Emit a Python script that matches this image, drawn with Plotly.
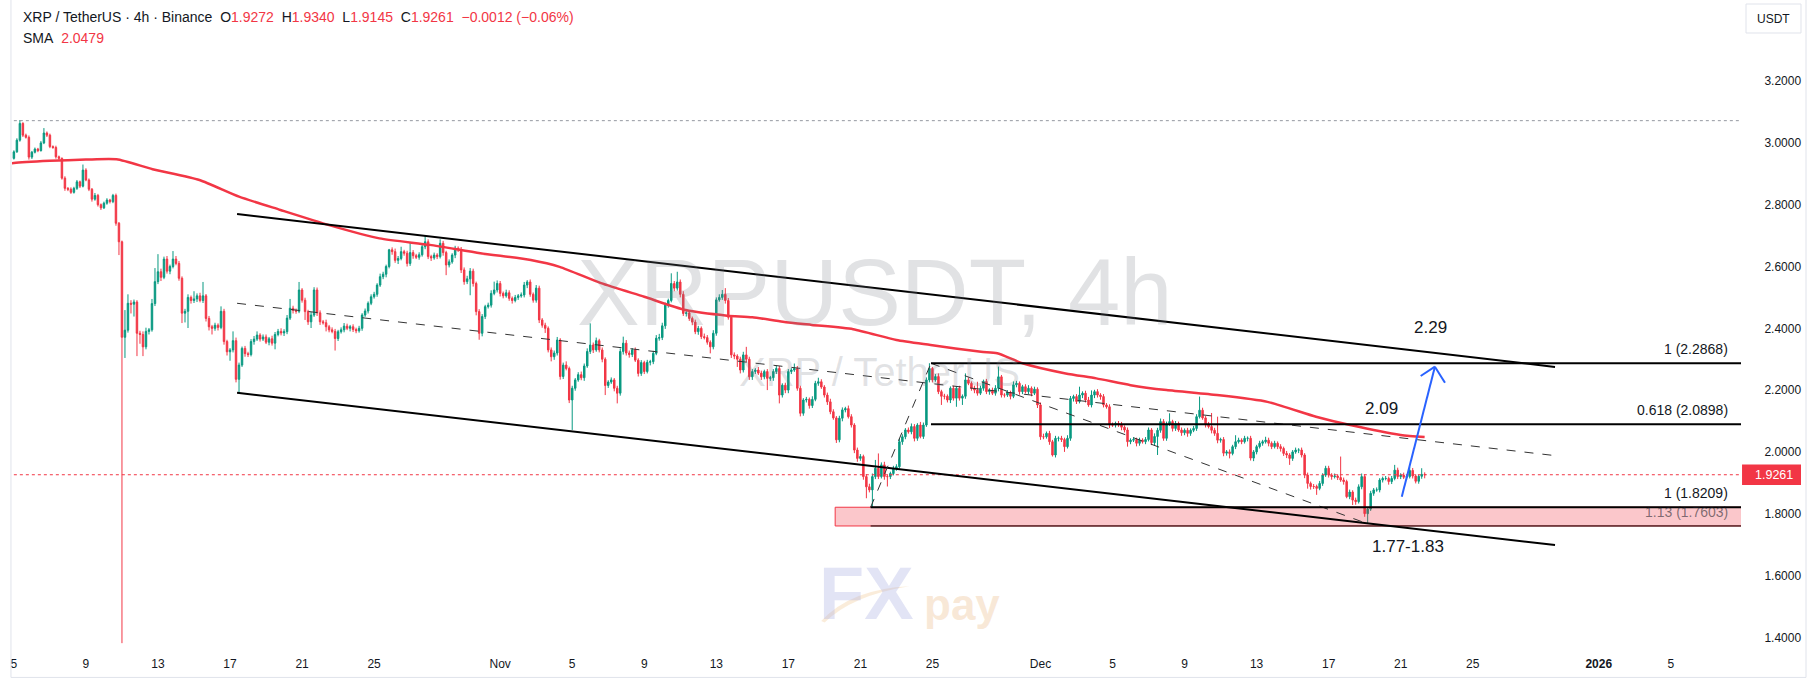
import pandas as pd
import plotly.graph_objects as go

# ---------------- data ----------------
START = pd.Timestamp("2025-10-05 00:00")   # first 4h candle
FIRST_OPEN = 2.950

# 4h closes, one row per day (6 candles)
CLOSE = [
 2.971,3.009,3.063,3.025,3.018,2.954,
 2.970,2.980,2.975,3.000,3.032,3.025,
 2.988,2.985,2.955,2.950,2.886,2.853,
 2.850,2.840,2.853,2.874,2.860,2.912,
 2.880,2.850,2.818,2.830,2.800,2.790,
 2.805,2.815,2.810,2.830,2.740,2.680,
 2.371,2.394,2.481,2.478,2.485,2.384,
 2.380,2.340,2.390,2.395,2.480,2.551,
 2.583,2.565,2.624,2.585,2.600,2.624,
 2.610,2.562,2.449,2.455,2.500,2.490,
 2.495,2.505,2.490,2.505,2.432,2.405,
 2.400,2.410,2.403,2.455,2.357,2.324,
 2.330,2.360,2.235,2.281,2.335,2.318,
 2.315,2.357,2.365,2.378,2.365,2.372,
 2.355,2.366,2.352,2.380,2.390,2.385,
 2.389,2.433,2.465,2.458,2.455,2.524,
 2.491,2.454,2.421,2.443,2.524,2.450,
 2.421,2.418,2.405,2.395,2.390,2.367,
 2.389,2.395,2.407,2.400,2.405,2.396,
 2.392,2.400,2.443,2.456,2.481,2.502,
 2.510,2.540,2.567,2.575,2.600,2.654,
 2.648,2.620,2.626,2.648,2.643,2.610,
 2.645,2.635,2.630,2.638,2.664,2.680,
 2.632,2.628,2.637,2.632,2.675,2.645,
 2.605,2.615,2.637,2.659,2.655,2.589,
 2.551,2.560,2.585,2.545,2.454,2.384,
 2.438,2.470,2.475,2.513,2.524,2.545,
 2.513,2.505,2.515,2.497,2.490,2.500,
 2.505,2.508,2.540,2.550,2.510,2.491,
 2.530,2.427,2.410,2.400,2.330,2.308,
 2.320,2.362,2.244,2.281,2.270,2.168,
 2.206,2.233,2.250,2.240,2.278,2.325,
 2.346,2.330,2.360,2.330,2.300,2.215,
 2.226,2.233,2.206,2.190,2.325,2.352,
 2.320,2.315,2.330,2.297,2.254,2.289,
 2.260,2.290,2.292,2.319,2.368,2.370,
 2.408,2.475,2.490,2.545,2.530,2.550,
 2.510,2.448,2.450,2.432,2.420,2.389,
 2.400,2.373,2.370,2.355,2.340,2.384,
 2.492,2.500,2.510,2.490,2.436,2.314,
 2.310,2.300,2.265,2.314,2.300,2.243,
 2.260,2.265,2.255,2.243,2.260,2.238,
 2.240,2.260,2.270,2.184,2.216,2.200,
 2.260,2.265,2.270,2.206,2.125,2.168,
 2.170,2.150,2.170,2.222,2.227,2.210,
 2.184,2.162,2.130,2.110,2.039,2.109,
 2.136,2.140,2.114,2.087,2.006,1.979,
 1.985,1.920,1.887,1.877,1.920,1.947,
 1.920,1.958,1.920,1.920,1.930,1.947,
 1.952,2.033,2.049,2.071,2.065,2.082,
 2.044,2.087,2.050,2.087,2.233,2.270,
 2.233,2.244,2.195,2.180,2.180,2.168,
 2.206,2.174,2.206,2.174,2.180,2.233,
 2.222,2.206,2.200,2.190,2.206,2.228,
 2.195,2.200,2.190,2.206,2.243,2.184,
 2.184,2.192,2.180,2.217,2.222,2.195,
 2.211,2.195,2.206,2.190,2.203,2.152,
 2.049,2.049,2.060,2.033,1.990,2.044,
 2.044,2.040,2.017,2.044,2.173,2.179,
 2.163,2.184,2.190,2.168,2.152,2.184,
 2.195,2.184,2.179,2.152,2.146,2.087,
 2.087,2.092,2.087,2.080,2.071,2.033,
 2.038,2.040,2.028,2.038,2.033,2.040,
 2.071,2.030,2.050,2.070,2.098,2.044,
 2.090,2.098,2.076,2.092,2.071,2.062,
 2.070,2.060,2.070,2.076,2.114,2.135,
 2.110,2.087,2.082,2.070,2.060,2.038,
 2.040,1.996,2.000,1.995,2.017,2.033,
 2.038,2.033,2.044,2.044,1.980,2.000,
 2.017,2.028,2.033,2.038,2.028,2.017,
 2.028,2.017,2.011,1.995,1.990,1.979,
 2.000,2.006,2.006,1.990,1.925,1.898,
 1.888,1.888,1.882,1.898,1.925,1.947,
 1.925,1.920,1.922,1.917,1.909,1.904,
 1.855,1.870,1.844,1.839,1.887,1.920,
 1.800,1.815,1.866,1.877,1.877,1.909,
 1.914,1.914,1.904,1.914,1.941,1.920,
 1.925,1.918,1.920,1.940,1.922,1.905,
 1.921,1.9272,1.9261,
]

# upper / lower wick lengths beyond the body (thousandths of a USDT)
UP = [
 5,6,11,4,5,6,  4,5,4,6,16,5,  5,4,6,4,3,6,  4,6,5,6,4,18,  6,5,4,8,5,4,  5,6,4,5,6,4,
 4,65,29,10,8,6,  8,10,12,6,15,44,  57,10,8,10,6,26,  10,8,6,8,10,6,  25,8,10,45,6,8,  6,8,6,16,8,6,
 6,30,10,8,6,8,  6,8,10,12,6,8,  8,6,10,8,8,10,  8,10,30,8,6,26,  6,8,6,10,9,8,  8,6,10,6,8,8,
 6,8,10,8,6,8,  6,8,6,8,6,8,  8,6,10,8,6,3,  8,10,8,16,6,8,  32,8,6,8,10,19,  8,6,8,6,13,8,
 6,8,6,8,6,8,  8,10,10,8,6,8,  8,6,8,10,27,10,  8,6,10,8,6,8,  6,8,10,6,8,6,  10,8,6,8,6,8,
 8,10,6,8,12,6,  8,6,8,10,8,10,  70,8,10,6,8,6,  6,8,6,8,10,21,  10,8,6,8,6,8,  6,8,6,8,10,12,
 10,8,6,33,8,33,  8,10,6,8,6,8,  8,6,10,8,6,10,  8,10,14,20,8,6,  8,6,8,10,26,8,  8,6,10,8,6,8,
 6,8,10,8,6,8,  8,6,16,8,8,6,  8,6,10,8,13,8,  6,8,10,8,6,8,  8,6,10,8,6,8,  8,6,8,10,10,27,
 48,8,10,8,6,8,  8,10,8,6,8,10,  8,6,10,8,8,17,  5,8,10,6,8,6,  6,8,6,8,6,21,  8,6,8,27,8,6,
 8,6,8,10,33,6,  6,8,6,11,8,6,  6,8,10,6,8,6,  8,10,6,8,6,8,  6,8,6,10,8,6,  8,27,6,8,10,15,
 6,8,6,8,6,8,  8,6,8,10,6,8,  6,8,6,8,6,8,  8,6,10,8,10,8,  8,27,6,8,6,8,  6,8,6,8,8,44,
 8,6,10,44,8,54,  6,8,6,8,6,21,  8,6,8,6,8,6,  6,8,6,11,8,6,  8,6,8,6,8,6,  6,8,6,8,6,8,
 6,8,6,8,6,8,  8,6,8,6,68,8,  6,8,6,8,8,10,  8,6,8,6,8,6,  6,8,6,8,17,8,  6,8,6,12,8,6,
 6,20,6.8,
]
DN = [
 4,3,5,6,4,8,  6,4,5,3,4,6,  5,4,6,5,5,8,  6,5,4,5,6,4,  4,6,8,5,6,7,  4,5,6,5,8,43,
 990,67,8,30,40,74,  30,30,8,10,6,8,  8,12,6,8,10,6,  6,8,32,30,54,10,  8,10,6,8,10,12,  20,8,10,6,10,12,
 29,8,10,43,6,10,  8,6,10,6,8,6,  6,10,8,20,6,8,  10,8,6,10,8,6,  8,27,10,20,6,10,  10,6,15,8,6,39,
 8,6,8,6,10,8,  8,6,8,6,8,6,  6,8,6,8,10,6,  10,8,12,6,8,10,  8,10,6,8,6,8,  8,10,6,8,6,10,
 33,8,6,10,8,10,  10,8,53,10,12,21,  10,8,6,8,6,8,  10,8,6,8,10,6,  8,6,8,10,8,8,  8,10,8,15,8,15,
 10,8,10,8,6,10,  97,8,6,8,10,6,  8,10,6,8,10,31,  8,6,10,33,8,10,  8,10,8,6,10,8,  8,6,10,8,6,8,
 8,10,8,6,10,8,  10,8,10,8,10,8,  10,8,6,8,21,8,  8,6,8,10,8,10,  10,25,11,8,10,10,  10,8,6,10,8,38,
 8,10,8,27,8,10,  10,8,6,8,10,8,  8,10,8,6,8,6,  8,10,8,6,10,8,  10,8,6,8,10,11,  8,10,37,8,56,8,
 8,6,10,32,8,6,  8,6,10,8,6,8,  10,8,6,8,6,8,  8,6,8,28,10,8,  10,8,28,8,22,8,  6,8,10,8,6,8,
 8,10,6,8,10,8,  8,6,10,6,8,10,  8,6,8,10,6,10,  10,8,6,10,5,8,  10,8,17,6,8,10,  8,6,10,8,6,8,
 10,8,10,8,6,10,  6,8,6,10,8,16,  8,6,10,8,6,8,  6,8,10,60,8,8,  8,6,10,8,6,10,  8,11,8,6,8,6,
 6,8,6,10,8,10,  8,10,8,16,6,8,  6,8,6,10,8,10,  8,6,8,6,10,8,  6,8,10,8,10,21,  8,6,10,8,10,17,
 10,8,21,6,8,6,  8,10,6,8,6,10,  5,8,16,10,6,8,  10,30,6,8,6,8,  8,6,10,8,6,8,  8,6,8,6,8,7,
 8,8,11.6,
]

# SMA line (days after START, value)
SMA_DAYS = [-0.2, 0, 2, 4, 5.7, 7.7, 10.3, 12.5, 14.8, 17.5, 20.3, 23.1, 25.9, 28.7, 30.3,
            32.6, 35.0, 37.3, 39.6, 41.0, 42.7, 44.3, 46.6, 49.0, 50.9, 53.7, 54.6, 56.0,
            58.4, 60.1, 62.0, 64.0, 66.8, 69.6, 72.3, 74.2, 77.0, 78.33]
SMA_VALS = [2.933, 2.935, 2.942, 2.946, 2.947, 2.915, 2.880, 2.826, 2.783, 2.734, 2.691, 2.670,
            2.643, 2.621, 2.599, 2.546, 2.502, 2.459, 2.441, 2.436, 2.421, 2.411, 2.397, 2.362,
            2.346, 2.324, 2.319, 2.287, 2.254, 2.238, 2.216, 2.200, 2.184, 2.162, 2.114, 2.087,
            2.055, 2.048]

# drawings
CH_DAYS = [12.39, 85.57]
CH_UPPER = [2.770, 2.275]
CH_LOWER = [2.1916, 1.6987]
CH_MID = [2.481, 1.988]
FIB_LEG_DAYS = [47.57, 50.92, 74.9]
FIB_LEG_PRICES = [1.8209, 2.2868, 1.773]
FIB_LEVELS = [2.2868, 2.0898, 1.8209, 1.7603]
FIB_START = [50.92, 50.92, 47.57, 47.57]
FIB_TEXT = ["1 (2.2868)", "0.618 (2.0898)", "1 (1.8209)", "1.13 (1.7603)"]
ZONE_START = 45.6
ZONE = [1.7603, 1.8209]
ARROW_DAYS = [77.06, 78.9]
ARROW_PRICES = [1.855, 2.2757]
HEAD_DAYS = [78.11, 79.46]
HEAD_PRICES = [2.2456, 2.2239]
TARGET_TEXT = ["2.29", "2.09", "1.77-1.83"]
TARGET_DAYS = [78.63, 75.96, 77.39]
TARGET_PRICES = [2.404, 2.139, 1.693]
HIGH_LINE = 3.072
LAST_PRICE = 1.9261

TICK_DATES = ["2025-10-05", "2025-10-09", "2025-10-13", "2025-10-17", "2025-10-21", "2025-10-25",
              "2025-11-01", "2025-11-05", "2025-11-09", "2025-11-13", "2025-11-17", "2025-11-21",
              "2025-11-25", "2025-12-01", "2025-12-05", "2025-12-09", "2025-12-13", "2025-12-17",
              "2025-12-21", "2025-12-25", "2026-01-01", "2026-01-05"]
TICK_TEXT = ["5", "9", "13", "17", "21", "25", "Nov", "5", "9", "13", "17", "21", "25", "Dec",
             "5", "9", "13", "17", "21", "25", "<b>2026</b>", "5"]
Y_TICKS = [1.4, 1.6, 1.8, 2.0, 2.2, 2.4, 2.6, 2.8, 3.0, 3.2]

GREEN = "#089981"
RED = "#F23645"
INK = "#131722"


def t(day):
    return START + pd.Timedelta(days=day)


times = pd.date_range(START, periods=len(CLOSE), freq="4h")
opens = [FIRST_OPEN] + CLOSE[:-1]
highs = [max(o, c) + u / 1000 for o, c, u in zip(opens, CLOSE, UP)]
lows = [min(o, c) - d / 1000 for o, c, d in zip(opens, CLOSE, DN)]

fig = go.Figure()
fig.add_trace(go.Candlestick(
    x=times, open=opens, high=highs, low=lows, close=CLOSE,
    increasing=dict(line=dict(color=GREEN, width=1), fillcolor=GREEN),
    decreasing=dict(line=dict(color=RED, width=1), fillcolor=RED),
    whiskerwidth=0, hoverinfo="skip", showlegend=False))
fig.add_trace(go.Scatter(
    x=[t(d) for d in SMA_DAYS], y=SMA_VALS, mode="lines",
    line=dict(color=RED, width=2.5, shape="spline", smoothing=0.6),
    hoverinfo="skip", showlegend=False))

shapes = []
FAR = 120
# top dotted high line
shapes.append(dict(type="line", xref="x", yref="y", x0=t(-5), x1=t(FAR), y0=HIGH_LINE, y1=HIGH_LINE,
                   line=dict(color="#9598A1", width=1, dash="dot")))
# last price dotted line
shapes.append(dict(type="line", xref="x", yref="y", x0=t(-5), x1=t(FAR), y0=LAST_PRICE, y1=LAST_PRICE,
                   line=dict(color=RED, width=1, dash="dot")))
# zone
shapes.append(dict(type="rect", xref="x", yref="y", x0=t(ZONE_START), x1=t(FAR), y0=ZONE[0], y1=ZONE[1],
                   fillcolor="rgba(242,54,69,0.28)", line=dict(color=RED, width=1)))
# channel
for ys, dash, w, col in [(CH_UPPER, None, 2, "#000000"), (CH_LOWER, None, 2, "#000000"),
                         (CH_MID, "dash", 1, "#333333")]:
    ln = dict(color=col, width=w)
    if dash:
        ln["dash"] = dash
    shapes.append(dict(type="line", xref="x", yref="y", x0=t(CH_DAYS[0]), x1=t(CH_DAYS[1]),
                       y0=ys[0], y1=ys[1], line=ln))
# fib legs
for k in range(len(FIB_LEG_DAYS) - 1):
    shapes.append(dict(type="line", xref="x", yref="y", x0=t(FIB_LEG_DAYS[k]), x1=t(FIB_LEG_DAYS[k + 1]),
                       y0=FIB_LEG_PRICES[k], y1=FIB_LEG_PRICES[k + 1],
                       line=dict(color="#333333", width=1, dash="dash")))
# fib levels
for lv, st, w in zip(FIB_LEVELS, FIB_START, [2, 2, 2, 1]):
    shapes.append(dict(type="line", xref="x", yref="y", x0=t(st), x1=t(FAR), y0=lv, y1=lv,
                       line=dict(color="#000000", width=w)))
# blue arrow
shapes.append(dict(type="line", xref="x", yref="y", x0=t(ARROW_DAYS[0]), x1=t(ARROW_DAYS[1]),
                   y0=ARROW_PRICES[0], y1=ARROW_PRICES[1], line=dict(color="#2962FF", width=2)))
for hd, hp in zip(HEAD_DAYS, HEAD_PRICES):
    shapes.append(dict(type="line", xref="x", yref="y", x0=t(ARROW_DAYS[1]), x1=t(hd),
                       y0=ARROW_PRICES[1], y1=hp, line=dict(color="#2962FF", width=2)))
# frame lines
shapes.append(dict(type="line", xref="paper", yref="paper", x0=-0.0006, x1=-0.0006, y0=-0.047, y1=1.0,
                   line=dict(color="#E0E3EB", width=1)))
shapes.append(dict(type="line", xref="paper", yref="paper", x0=-0.0006, x1=1.0376, y0=-0.047, y1=-0.047,
                   line=dict(color="#E0E3EB", width=1)))
shapes.append(dict(type="line", xref="paper", yref="paper", x0=1.0376, x1=1.0376, y0=-0.047, y1=1.0,
                   line=dict(color="#E0E3EB", width=1)))
# USDT box
shapes.append(dict(type="rect", xref="paper", yref="paper", x0=1.0029, x1=1.0347, y0=0.949, y1=0.9938,
                   line=dict(color="#E0E3EB", width=1), fillcolor="white"))
# price tag
shapes.append(dict(type="rect", xref="paper", yref="y", x0=1.0006, x1=1.0347,
                   y0=LAST_PRICE - 0.0335, y1=LAST_PRICE + 0.0335,
                   line=dict(color=RED, width=0), fillcolor=RED))
# logo swoosh
shapes.append(dict(type="path", xref="paper", yref="paper",
                   path="M 0.4680,0.040 Q 0.4850,0.090 0.5190,0.094 Q 0.4860,0.080 0.4700,0.038 Z",
                   fillcolor="rgba(240,200,150,0.35)", line=dict(width=0)))

ann = []


def add_text(text, x, y, size, color, xref="paper", yref="paper", xanchor="center", yanchor="middle"):
    ann.append(dict(text=text, xref=xref, yref=yref, x=x, y=y, xanchor=xanchor, yanchor=yanchor,
                    showarrow=False, font=dict(size=size, color=color)))


WM = "rgba(120,123,134,0.22)"
add_text("XRPUSDT, 4h", 0.4991, 0.548, 94, WM)
add_text("XRP / TetherUS", 0.502, 0.425, 40, WM)
add_text("<b>FX</b>", 0.4945, 0.083, 74, "rgba(170,175,225,0.34)")
add_text("<b>pay</b>", 0.5494, 0.066, 44, "rgba(235,190,140,0.35)")

# header
R = lambda s: "<span style='color:%s'>%s</span>" % (RED, s)
sp = "\u00a0\u00a0"
head1 = ("XRP / TetherUS · 4h · Binance" + sp + "O" + R("1.9272") + sp + "H" + R("1.9340") + sp +
         "L" + R("1.9145") + sp + "C" + R("1.9261") + sp + R("\u22120.0012 (\u22120.06%)"))
add_text(head1, 0.0052, 0.9737, 14, INK, xanchor="left")
add_text("SMA" + "\u00a0\u00a0" + R("2.0479"), 0.0052, 0.9415, 14, INK, xanchor="left")
# USDT
add_text("USDT", 1.0188, 0.9714, 12, INK)
# price tag text
add_text(f"{LAST_PRICE:.4f}", 1.0188, LAST_PRICE, 12.5, "white", yref="y")
# fib labels
for lv, txt in zip(FIB_LEVELS, FIB_TEXT):
    col = INK if txt != "1.13 (1.7603)" else "rgba(19,23,34,0.55)"
    add_text(txt, 0.9936, lv + 0.045, 14, col, yref="y", xanchor="right")
# target labels
for txt, d, p in zip(TARGET_TEXT, TARGET_DAYS, TARGET_PRICES):
    add_text(txt, t(d), p, 17, INK, xref="x", yref="y")

fig.update_layout(
    width=1817, height=684, margin=dict(l=12, r=76, t=0, b=37),
    paper_bgcolor="white", plot_bgcolor="white", showlegend=False,
    font=dict(family="Liberation Sans, Arial, sans-serif", color=INK),
    shapes=shapes, annotations=ann,
    xaxis=dict(type="date", range=[t(-0.1055), t(95.896)], rangeslider=dict(visible=False),
               showgrid=False, zeroline=False, showline=False,
               tickmode="array", tickvals=TICK_DATES, ticktext=TICK_TEXT,
               ticks="outside", ticklen=6, tickcolor="rgba(0,0,0,0)",
               tickfont=dict(size=12, color=INK)),
    yaxis=dict(side="right", range=[1.3686, 3.4625], showgrid=False, zeroline=False, showline=False,
               tickmode="array", tickvals=Y_TICKS, ticktext=[f"{v:.4f}" for v in Y_TICKS],
               ticks="outside", ticklen=20, tickcolor="rgba(0,0,0,0)",
               tickfont=dict(size=12, color=INK)),
)

fig.write_html("out.html", config={"displayModeBar": False},
               post_script="document.body.style.margin='0';document.body.style.overflow='hidden';")
